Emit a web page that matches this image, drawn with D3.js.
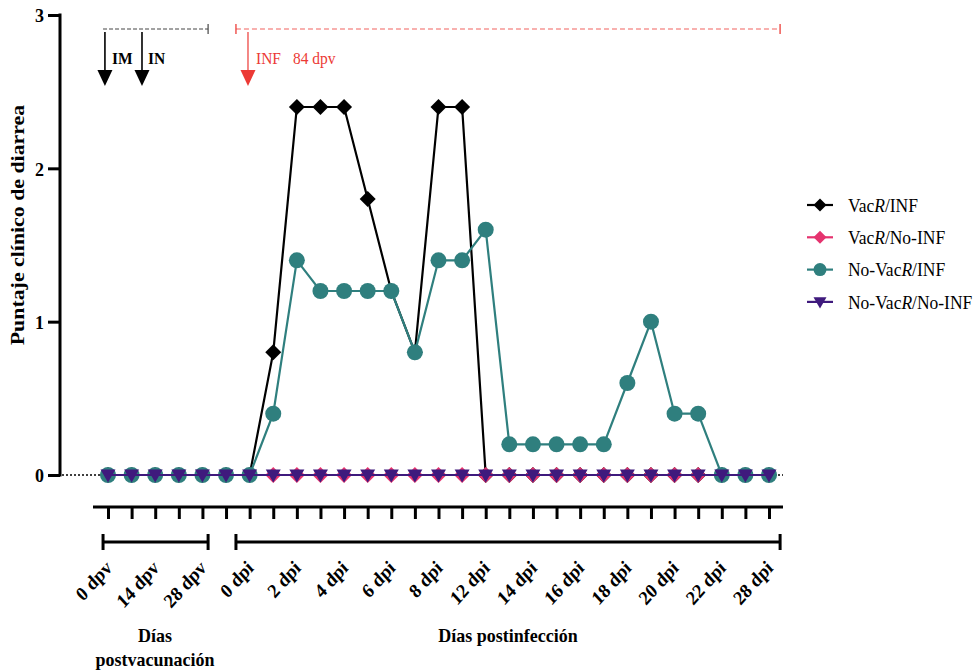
<!DOCTYPE html>
<html>
<head>
<meta charset="utf-8">
<script src="https://cdn.jsdelivr.net/npm/d3@7"></script>
<style>
  body { margin: 0; background: #fff; }
  text { font-family: "Liberation Serif", "Times New Roman", serif; }
</style>
</head>
<body>
<svg id="chart" width="980" height="672"></svg>
<script>
// Sampling points, in order: 6 post-vaccination visits, then days post-infection
const timepoints = d3.range(29);
const tickLabels = ["0 dpv", "14 dpv", "28 dpv", "0 dpi", "2 dpi", "4 dpi", "6 dpi", "8 dpi",
                    "12 dpi", "14 dpi", "16 dpi", "18 dpi", "20 dpi", "22 dpi", "28 dpi"];
const yTicks = [0, 1, 2, 3];

// Clinical diarrhoea score per group
const vacInf     = [0, 0, 0, 0, 0, 0, 0, 0.8, 2.4, 2.4, 2.4, 1.8, 1.2, 0.8, 2.4, 2.4, 0,
                    0, 0, 0, 0, 0, 0, 0, 0, 0, 0, 0, 0];
const vacNoInf   = [0, 0, 0, 0, 0, 0, 0, 0, 0, 0, 0, 0, 0, 0, 0, 0, 0,
                    0, 0, 0, 0, 0, 0, 0, 0, 0, 0, 0, 0];
const noVacInf   = [0, 0, 0, 0, 0, 0, 0, 0.4, 1.4, 1.2, 1.2, 1.2, 1.2, 0.8, 1.4, 1.4, 1.6,
                    0.2, 0.2, 0.2, 0.2, 0.2, 0.6, 1.0, 0.4, 0.4, 0, 0, 0];
const noVacNoInf = [0, 0, 0, 0, 0, 0, 0, 0, 0, 0, 0, 0, 0, 0, 0, 0, 0,
                    0, 0, 0, 0, 0, 0, 0, 0, 0, 0, 0, 0];

const STRETCH = 1.1; // glyphs are drawn slightly taller than wide

const svg = d3.select("#chart");

const x = d3.scaleLinear().domain([0, 28]).range([108, 769]);
const y = d3.scaleLinear().domain([0, 3]).range([475, 15]);

const diamond = r => `M0,${-r}L${r},0L0,${r}L${-r},0Z`;
const triDown = r => `M${-r},${-r * 0.72}L${r},${-r * 0.72}L0,${r}Z`;
const circle  = r => `M${r},0A${r},${r} 0 1,1 ${-r},0A${r},${r} 0 1,1 ${r},0Z`;

const series = [
  { name: ["Vac", "R", "/INF"],        values: vacInf,     color: "#000000", shape: diamond, r: 8,   lr: 6.5 },
  { name: ["Vac", "R", "/No-INF"],     values: vacNoInf,   color: "#e5336f", shape: diamond, r: 8,   lr: 6.5 },
  { name: ["No-Vac", "R", "/INF"],     values: noVacInf,   color: "#2f7f7e", shape: circle,  r: 8,   lr: 6.5 },
  { name: ["No-Vac", "R", "/No-INF"],  values: noVacNoInf, color: "#3f1a7d", shape: triDown, r: 7.5, lr: 6.5 }
];

// dotted zero reference
svg.append("line")
  .attr("x1", 62).attr("x2", 783)
  .attr("y1", y(0)).attr("y2", y(0))
  .attr("stroke", "#000").attr("stroke-width", 1.3)
  .attr("stroke-dasharray", "2,2");

// Y axis
const yAxis = svg.append("g")
  .attr("transform", "translate(60,0)")
  .call(d3.axisLeft(y).tickValues(yTicks).tickFormat(d3.format("d")).tickSize(12).tickSizeOuter(0));
yAxis.select(".domain").attr("stroke-width", 3).attr("d", `M0,${y(0) + 1.5}V${y(3) - 1.5}`);
yAxis.selectAll(".tick line").attr("stroke-width", 3);
yAxis.selectAll(".tick text")
  .attr("x", -16).attr("dy", "0.35em")
  .attr("transform", `scale(1,${STRETCH})`)
  .style("font-size", "18px").style("font-weight", "bold").attr("fill", "#000");

svg.append("text")
  .attr("transform", `translate(24,225) rotate(-90) scale(${STRETCH + 0.05},1)`)
  .attr("text-anchor", "middle")
  .style("font-size", "19px").style("font-weight", "bold")
  .text("Puntaje clínico de diarrea");

// X axis
const xAxisY = 507;
const xAxis = svg.append("g")
  .attr("transform", `translate(0,${xAxisY})`)
  .call(d3.axisBottom(x).tickValues(timepoints).tickFormat("").tickSize(12).tickSizeOuter(0));
xAxis.select(".domain").attr("stroke-width", 3).attr("d", "M93,0H783");
xAxis.selectAll(".tick line").attr("stroke-width", 3);

svg.append("g").selectAll("text")
  .data(timepoints.filter(i => i % 2 === 0))
  .join("text")
  .attr("transform", i => `translate(${x(i) + 5},${xAxisY + 62}) scale(1,${STRETCH}) rotate(-45)`)
  .attr("text-anchor", "end")
  .style("font-size", "18px").style("font-weight", "bold")
  .text(i => tickLabels[i / 2]);

// Period brackets below the axis
function bracket(x0, x1, yy) {
  const g = svg.append("g").attr("stroke", "#000").attr("stroke-width", 3);
  g.append("line").attr("x1", x(x0)).attr("x2", x(x1)).attr("y1", yy).attr("y2", yy);
  g.append("line").attr("x1", x(x0)).attr("x2", x(x0)).attr("y1", yy - 8).attr("y2", yy + 8);
  g.append("line").attr("x1", x(x1)).attr("x2", x(x1)).attr("y1", yy - 8).attr("y2", yy + 8);
}
bracket(-0.21, 4.24, 542);
bracket(5.42, 28.47, 542);

function title(lines, cx, cy) {
  lines.forEach((t, k) => {
    svg.append("text")
      .attr("transform", `translate(${cx},${cy + k * 23.5}) scale(1,${STRETCH})`)
      .attr("text-anchor", "middle")
      .style("font-size", "18px").style("font-weight", "bold")
      .text(t);
  });
}
title(["Días", "postvacunación"], 155, 642);
title(["Días postinfección"], 508, 642);

// Schedule annotations above the plot
const annY = 29;
svg.append("line")
  .attr("x1", x(-0.21)).attr("x2", x(4.24)).attr("y1", annY).attr("y2", annY)
  .attr("stroke", "#444").attr("stroke-width", 1).attr("stroke-dasharray", "4,2");
svg.append("line")
  .attr("x1", x(4.24)).attr("x2", x(4.24)).attr("y1", annY - 5).attr("y2", annY + 5)
  .attr("stroke", "#444").attr("stroke-width", 1.2);

const red = "#ec3a35";
svg.append("line")
  .attr("x1", x(5.42)).attr("x2", x(28.47)).attr("y1", annY).attr("y2", annY)
  .attr("stroke", red).attr("stroke-opacity", 0.8).attr("stroke-width", 1.2).attr("stroke-dasharray", "5,3");
[5.42, 28.47].forEach(v => {
  svg.append("line")
    .attr("x1", x(v)).attr("x2", x(v)).attr("y1", annY - 5).attr("y2", annY + 5)
    .attr("stroke", red).attr("stroke-opacity", 0.85).attr("stroke-width", 1.5);
});

function arrow(pos, color, opacity) {
  const xx = x(pos);
  svg.append("line")
    .attr("x1", xx).attr("x2", xx).attr("y1", annY + 3).attr("y2", 72)
    .attr("stroke", color).attr("stroke-opacity", opacity).attr("stroke-width", 1.6);
  svg.append("path")
    .attr("d", `M${xx - 7.5},70L${xx + 7.5},70L${xx},86Z`)
    .attr("fill", color);
}
arrow(-0.13, "#000", 1);
arrow(1.44, "#000", 1);
arrow(5.93, red, 0.75);

function note(t, xx, bold, color) {
  svg.append("text")
    .attr("transform", `translate(${xx},64) scale(1,${STRETCH})`)
    .style("font-size", "15.5px").style("font-weight", bold ? "bold" : "normal")
    .attr("fill", color).text(t);
}
note("IM", 112, true, "#000");
note("IN", 148, true, "#000");
note("INF", 256, false, red);
note("84 dpv", 293, false, red);

// Series lines, then markers
const line = d3.line().x((d, i) => x(i)).y(d => y(d));
series.forEach(s => {
  svg.append("path")
    .datum(s.values)
    .attr("d", line)
    .attr("fill", "none")
    .attr("stroke", s.color)
    .attr("stroke-width", 2.2);
});
series.forEach(s => {
  svg.append("g").selectAll("path")
    .data(s.values)
    .join("path")
    .attr("transform", (d, i) => `translate(${x(i)},${y(d)})`)
    .attr("d", s.shape(s.r))
    .attr("fill", s.color);
});
// the last group's line stays visible across its markers
svg.append("path")
  .datum(noVacNoInf)
  .attr("d", line)
  .attr("fill", "none")
  .attr("stroke", series[3].color)
  .attr("stroke-width", 2);

// Legend
const legend = svg.append("g").attr("transform", "translate(807,205)");
series.forEach((s, k) => {
  const g = legend.append("g").attr("transform", `translate(0,${k * 32.3})`);
  g.append("line").attr("x1", 0).attr("x2", 26).attr("stroke", s.color).attr("stroke-width", 2.2);
  g.append("path").attr("transform", "translate(13,0)").attr("d", s.shape(s.lr)).attr("fill", s.color);
  const t = g.append("text")
    .attr("transform", `translate(41,0) scale(1,${STRETCH})`)
    .attr("dy", "0.35em")
    .style("font-size", "17.5px");
  t.append("tspan").text(s.name[0]);
  t.append("tspan").style("font-style", "italic").text(s.name[1]);
  t.append("tspan").text(s.name[2]);
});
</script>
</body>
</html>
